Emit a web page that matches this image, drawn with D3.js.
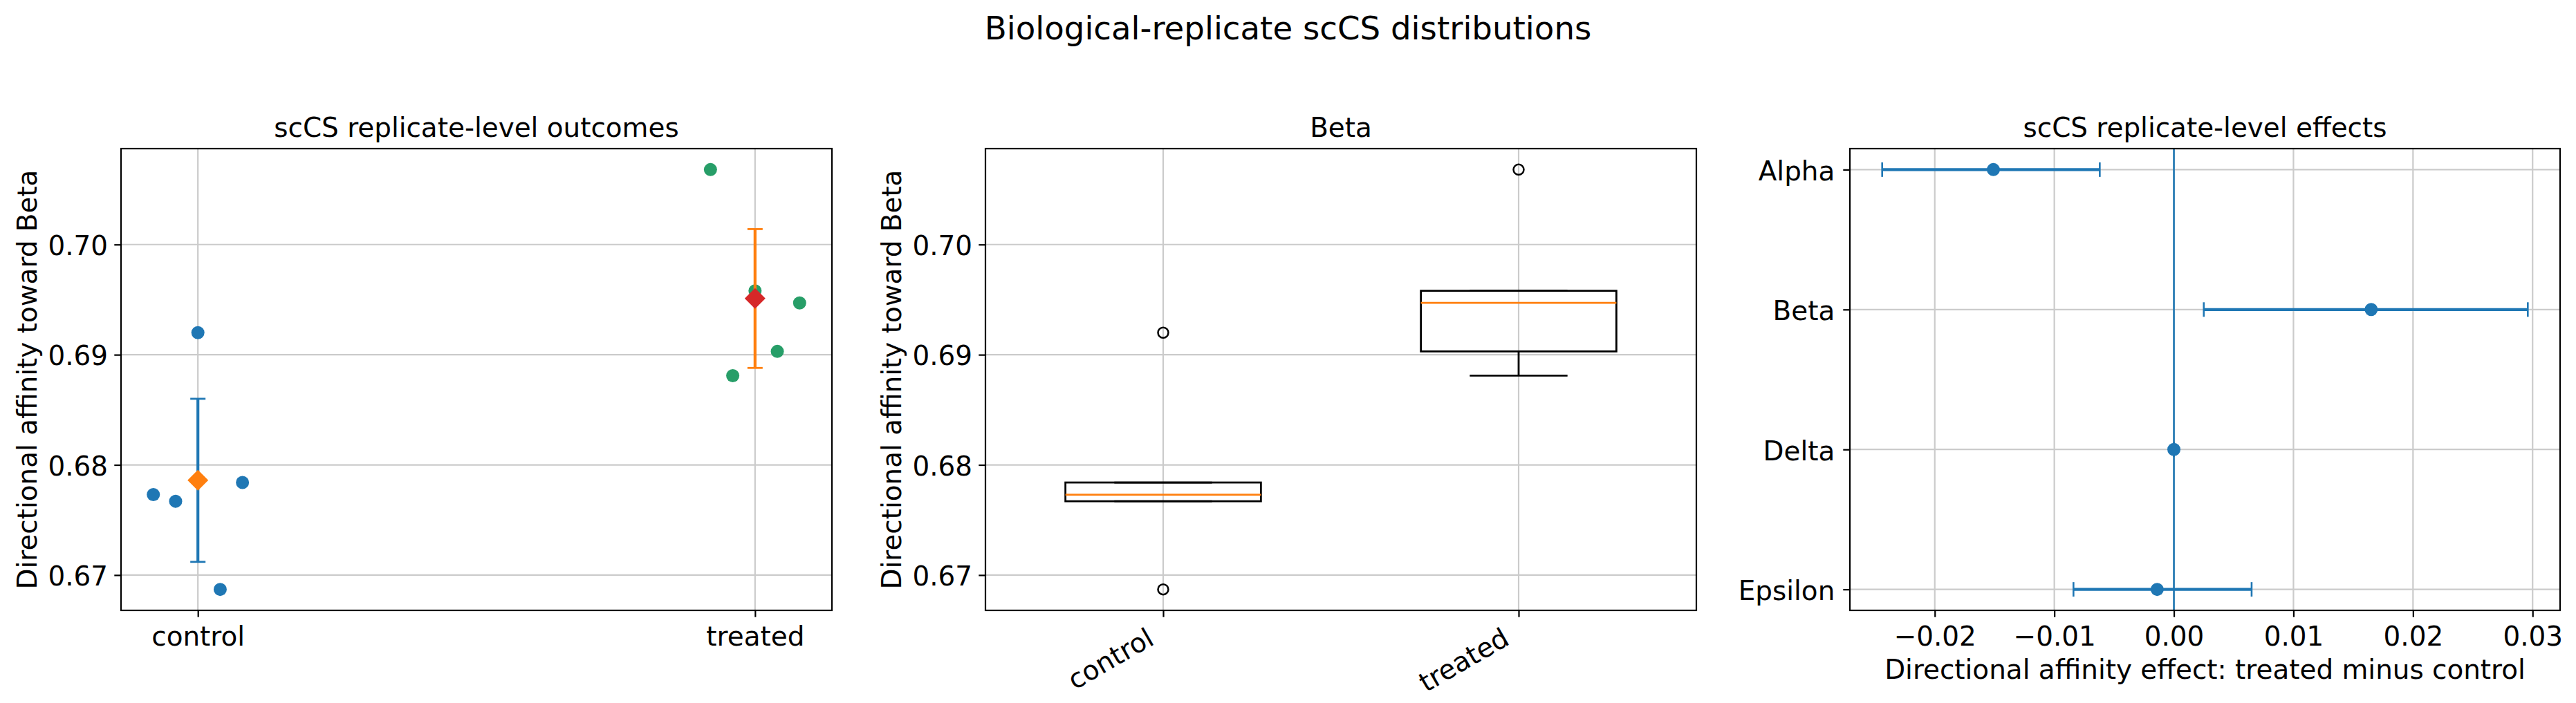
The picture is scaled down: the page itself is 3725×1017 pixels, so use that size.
<!DOCTYPE html>
<html>
<head>
<meta charset="utf-8">
<script src="https://cdn.jsdelivr.net/npm/d3@7"></script>
<style>
body { margin: 0; background: #fff; }
svg text { font-family: "DejaVu Sans", sans-serif; fill: #000; }
</style>
</head>
<body>
<svg id="chart"></svg>
<script>
// data
var groups = ["control", "treated"];
var controlValues = [0.6773, 0.6767, 0.6920, 0.6687, 0.6784];
var treatedValues = [0.7068, 0.6881, 0.6958, 0.6903, 0.6947];
var jitter = [-0.08, -0.04, 0, 0.04, 0.08];
var groupMeans = [0.6786, 0.6951];
var groupErrors = [0.0074, 0.0063];
var outcomeTicks = [0.67, 0.68, 0.69, 0.70];

var cellTypes = ["Alpha", "Beta", "Delta", "Epsilon"];
var effects = [-0.0151, 0.0165, 0.0000, -0.0014];
var effectLow = [-0.0244, 0.0025, 0.0000, -0.0084];
var effectHigh = [-0.0062, 0.0296, 0.0000, 0.0065];
var effectTicks = [-0.02, -0.01, 0, 0.01, 0.02, 0.03];

// colours
var pointColors = ["#1f77b4", "#279e68"];
var errColors = ["#1f77b4", "#ff7f0e"];
var meanColors = ["#ff7f0e", "#d62728"];
var gridColor = "#cbcbcb";

// layout (note: "top" is taken by window.top, so plotTop)
var W = 3725, H = 1017;
var fs = 38.9;
var plotTop = 215, plotBottom = 883;
var panels = [
    {left: 175, right: 1203},
    {left: 1425, right: 2453},
    {left: 2675, right: 3702}
];

var svg = d3.select("#chart").attr("width", W).attr("height", H);
svg.append("rect").attr("width", W).attr("height", H).attr("fill", "#fff");

// suptitle
svg.append("text")
    .attr("x", W / 2).attr("y", 57)
    .attr("text-anchor", "middle")
    .style("font-size", (fs * 1.2) + "px")
    .text("Biological-replicate scCS distributions");

// padded extent like matplotlib autoscale
function padded(vals) {
    var e = d3.extent(vals), m = (e[1] - e[0]) * 0.05;
    return [e[0] - m, e[1] + m];
}

var allValues = controlValues.concat(treatedValues);
var yOut = d3.scaleLinear().domain(padded(allValues)).range([plotBottom, plotTop]);

function frame(g, p) {
    g.append("rect")
        .attr("x", p.left).attr("y", plotTop)
        .attr("width", p.right - p.left).attr("height", plotBottom - plotTop)
        .attr("fill", "none").attr("stroke", "#000").attr("stroke-width", 2.2);
}

function styleAxis(ax) {
    ax.select(".domain").remove();
    ax.selectAll(".tick line").attr("stroke", "#000").attr("stroke-width", 2.2);
    ax.selectAll(".tick text").style("font-size", fs + "px");
}

function title(g, p, txt) {
    g.append("text")
        .attr("x", (p.left + p.right) / 2).attr("y", 198)
        .attr("text-anchor", "middle")
        .style("font-size", fs + "px")
        .text(txt);
}

function yLabel(g, p, txt) {
    g.append("text")
        .attr("transform", "translate(" + (p.left - 122) + "," + ((plotTop + plotBottom) / 2) + ") rotate(-90)")
        .attr("text-anchor", "middle")
        .style("font-size", fs + "px")
        .text(txt);
}

function leftAxis(g, p, scale, ticks, fmt) {
    var ax = g.append("g")
        .attr("transform", "translate(" + p.left + ",0)")
        .call(d3.axisLeft(scale).tickValues(ticks).tickSize(9.7).tickPadding(9.3).tickFormat(fmt));
    styleAxis(ax);
    ax.selectAll(".tick text").attr("dy", "0.38em");
    return ax;
}

function bottomAxis(g, scale, ticks, fmt) {
    var ax = g.append("g")
        .attr("transform", "translate(0," + plotBottom + ")")
        .call(d3.axisBottom(scale).tickValues(ticks).tickSize(9.7).tickPadding(14).tickFormat(fmt));
    styleAxis(ax);
    return ax;
}

// ---------- panel 1: replicate-level outcomes ----------
var p1 = panels[0];
var g1 = svg.append("g");
var jitterAll = jitter.concat(jitter.map(function(j) { return 1 + j; }));
var x1 = d3.scaleLinear().domain(padded(jitterAll)).range([p1.left, p1.right]);

// grid
g1.selectAll(".gy").data(outcomeTicks).enter().append("line")
    .attr("x1", p1.left).attr("x2", p1.right)
    .attr("y1", function(d) { return yOut(d); }).attr("y2", function(d) { return yOut(d); })
    .attr("stroke", gridColor).attr("stroke-width", 2.2);
g1.selectAll(".gx").data(groups).enter().append("line")
    .attr("x1", function(d, i) { return x1(i); }).attr("x2", function(d, i) { return x1(i); })
    .attr("y1", plotTop).attr("y2", plotBottom)
    .attr("stroke", gridColor).attr("stroke-width", 2.2);

// replicate points
[controlValues, treatedValues].forEach(function(vals, gi) {
    g1.selectAll(".pt" + gi).data(vals).enter().append("circle")
        .attr("cx", function(d, i) { return x1(gi + jitter[i]); })
        .attr("cy", function(d) { return yOut(d); })
        .attr("r", 9.5)
        .attr("fill", pointColors[gi]);
});

// mean +/- error
groups.forEach(function(grp, gi) {
    var cx = x1(gi), lo = yOut(groupMeans[gi] - groupErrors[gi]), hi = yOut(groupMeans[gi] + groupErrors[gi]);
    g1.append("line").attr("x1", cx).attr("x2", cx).attr("y1", lo).attr("y2", hi)
        .attr("stroke", errColors[gi]).attr("stroke-width", 4.2);
    [lo, hi].forEach(function(yy) {
        g1.append("line").attr("x1", cx - 11).attr("x2", cx + 11).attr("y1", yy).attr("y2", yy)
            .attr("stroke", errColors[gi]).attr("stroke-width", 2.8);
    });
    var cy = yOut(groupMeans[gi]), h = 15;
    g1.append("path")
        .attr("d", "M" + cx + "," + (cy - h) + "L" + (cx + h) + "," + cy + "L" + cx + "," + (cy + h) + "L" + (cx - h) + "," + cy + "Z")
        .attr("fill", meanColors[gi]);
});

frame(g1, p1);
leftAxis(g1, p1, yOut, outcomeTicks, d3.format(".2f"));
var xScale1 = d3.scalePoint().domain(groups).range([x1(0), x1(1)]);
bottomAxis(g1, xScale1, groups, function(d) { return d; });
title(g1, p1, "scCS replicate-level outcomes");
yLabel(g1, p1, "Directional affinity toward Beta");

// ---------- panel 2: boxplot ----------
var p2 = panels[1];
var g2 = svg.append("g");
var x2 = d3.scalePoint().domain(groups).range([p2.left, p2.right]).padding(0.5);
var boxHalf = x2.step() * 0.55 / 2;

g2.selectAll(".gy").data(outcomeTicks).enter().append("line")
    .attr("x1", p2.left).attr("x2", p2.right)
    .attr("y1", function(d) { return yOut(d); }).attr("y2", function(d) { return yOut(d); })
    .attr("stroke", gridColor).attr("stroke-width", 2.2);
g2.selectAll(".gx").data(groups).enter().append("line")
    .attr("x1", function(d) { return x2(d); }).attr("x2", function(d) { return x2(d); })
    .attr("y1", plotTop).attr("y2", plotBottom)
    .attr("stroke", gridColor).attr("stroke-width", 2.2);

[controlValues, treatedValues].forEach(function(vals, gi) {
    var s = vals.slice().sort(d3.ascending);
    var q1 = d3.quantile(s, 0.25), med = d3.quantile(s, 0.5), q3 = d3.quantile(s, 0.75);
    var iqr = q3 - q1;
    var inside = s.filter(function(v) { return v >= q1 - 1.5 * iqr && v <= q3 + 1.5 * iqr; });
    var wLo = d3.min(inside), wHi = d3.max(inside);
    var fliers = s.filter(function(v) { return v < q1 - 1.5 * iqr || v > q3 + 1.5 * iqr; });
    var cx = x2(groups[gi]);

    // whiskers
    [[q1, wLo], [q3, wHi]].forEach(function(w) {
        g2.append("line").attr("x1", cx).attr("x2", cx).attr("y1", yOut(w[0])).attr("y2", yOut(w[1]))
            .attr("stroke", "#000").attr("stroke-width", 2.8);
        g2.append("line").attr("x1", cx - boxHalf / 2).attr("x2", cx + boxHalf / 2)
            .attr("y1", yOut(w[1])).attr("y2", yOut(w[1]))
            .attr("stroke", "#000").attr("stroke-width", 2.8);
    });
    g2.append("rect")
        .attr("x", cx - boxHalf).attr("width", boxHalf * 2)
        .attr("y", yOut(q3)).attr("height", yOut(q1) - yOut(q3))
        .attr("fill", "none").attr("stroke", "#000").attr("stroke-width", 2.8);
    g2.append("line").attr("x1", cx - boxHalf).attr("x2", cx + boxHalf)
        .attr("y1", yOut(med)).attr("y2", yOut(med))
        .attr("stroke", "#ff7f0e").attr("stroke-width", 2.8);
    g2.selectAll(".fl" + gi).data(fliers).enter().append("circle")
        .attr("cx", cx).attr("cy", function(d) { return yOut(d); })
        .attr("r", 7.5).attr("fill", "none").attr("stroke", "#000").attr("stroke-width", 2.5);
});

frame(g2, p2);
leftAxis(g2, p2, yOut, outcomeTicks, d3.format(".2f"));
var ax2 = bottomAxis(g2, x2, groups, function(d) { return d; });
ax2.selectAll(".tick text")
    .attr("y", null).attr("dy", null)
    .attr("text-anchor", "end")
    .attr("transform", "translate(-11.5,48) rotate(-30)");
title(g2, p2, "Beta");
yLabel(g2, p2, "Directional affinity toward Beta");

// ---------- panel 3: effects ----------
var p3 = panels[2];
var g3 = svg.append("g");
var x3 = d3.scaleLinear().domain(padded(effectLow.concat(effectHigh))).range([p3.left, p3.right]);
var y3 = d3.scalePoint().domain(cellTypes).range([plotTop, plotBottom]).padding(0.15);

g3.selectAll(".gx").data(effectTicks).enter().append("line")
    .attr("x1", function(d) { return x3(d); }).attr("x2", function(d) { return x3(d); })
    .attr("y1", plotTop).attr("y2", plotBottom)
    .attr("stroke", gridColor).attr("stroke-width", 2.2);
g3.selectAll(".gy").data(cellTypes).enter().append("line")
    .attr("x1", p3.left).attr("x2", p3.right)
    .attr("y1", function(d) { return y3(d); }).attr("y2", function(d) { return y3(d); })
    .attr("stroke", gridColor).attr("stroke-width", 2.2);

// zero line
g3.append("line").attr("x1", x3(0)).attr("x2", x3(0)).attr("y1", plotTop).attr("y2", plotBottom)
    .attr("stroke", "#1f77b4").attr("stroke-width", 2.6);

cellTypes.forEach(function(c, i) {
    var cy = y3(c);
    g3.append("line").attr("x1", x3(effectLow[i])).attr("x2", x3(effectHigh[i])).attr("y1", cy).attr("y2", cy)
        .attr("stroke", "#1f77b4").attr("stroke-width", 4.2);
    [effectLow[i], effectHigh[i]].forEach(function(v) {
        g3.append("line").attr("x1", x3(v)).attr("x2", x3(v)).attr("y1", cy - 10.5).attr("y2", cy + 10.5)
            .attr("stroke", "#1f77b4").attr("stroke-width", 2.6);
    });
    g3.append("circle").attr("cx", x3(effects[i])).attr("cy", cy).attr("r", 9.5).attr("fill", "#1f77b4");
});

frame(g3, p3);
var ax3y = g3.append("g")
    .attr("transform", "translate(" + p3.left + ",0)")
    .call(d3.axisLeft(y3).tickSize(9.7).tickPadding(12));
styleAxis(ax3y);
ax3y.selectAll(".tick text").attr("dy", "0.38em");
bottomAxis(g3, x3, effectTicks, function(d) { return d3.format(".2f")(d).replace("-", "\u2212"); });
title(g3, p3, "scCS replicate-level effects");
g3.append("text")
    .attr("x", (p3.left + p3.right) / 2).attr("y", 982)
    .attr("text-anchor", "middle")
    .style("font-size", fs + "px")
    .text("Directional affinity effect: treated minus control");
</script>
</body>
</html>
